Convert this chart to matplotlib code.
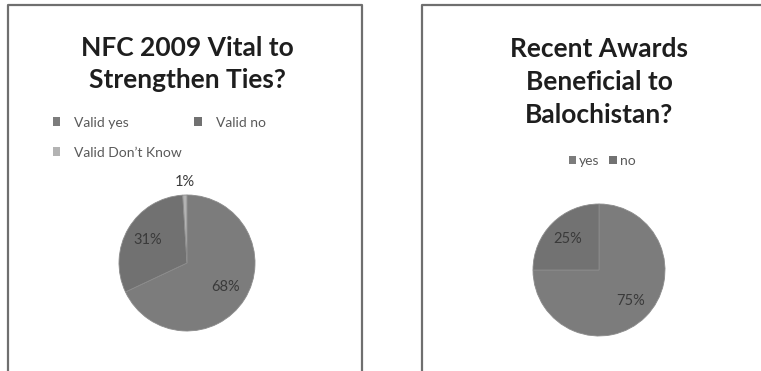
import numpy as np
import matplotlib
matplotlib.use("Agg")
import matplotlib.pyplot as plt
from matplotlib.lines import Line2D

plt.rcParams['font.family'] = ['Lato', 'DejaVu Sans']

# survey results
nfc_labels = ['Valid yes', 'Valid no', "Valid Don\u2019t Know"]
nfc_values = [68, 31, 1]
nfc_colors = ['#7c7c7c', '#717171', '#b3b3b3']
nfc_title = 'NFC 2009 Vital to\nStrengthen Ties?'

award_labels = ['yes', 'no']
award_values = [75, 25]
award_colors = ['#7c7c7c', '#727272']
award_title = 'Recent Awards\nBeneficial to\nBalochistan?'

W, H = 761, 371
fig = plt.figure(figsize=(W / 100, H / 100), dpi=100)


def px_axes(cx, cy, r):
    # square axes centred on pixel (cx, cy) with radius r
    return fig.add_axes([(cx - r) / W, (H - cy - r) / H, 2 * r / W, 2 * r / H])


def frame(points):
    xs = [p[0] / W for p in points]
    ys = [1 - p[1] / H for p in points]
    fig.add_artist(Line2D(xs, ys, color='#6f6f6f', lw=1.6))


def draw_pie(ax, values, colors):
    wedges, texts, pcts = ax.pie(values, colors=colors, startangle=90,
                                 counterclock=False, autopct='%.0f%%',
                                 pctdistance=0.67,
                                 wedgeprops=dict(edgecolor='#8c8c8c', lw=0.6),
                                 textprops=dict(color='#3a3a3a', fontsize=10.5))
    ax.set_xlim(-1, 1)
    ax.set_ylim(-1, 1)
    ax.set_aspect('equal')
    ax.axis('off')
    # tiny slices get their label outside the pie
    for w, v, t in zip(wedges, values, pcts):
        if v < 5:
            a = np.deg2rad((w.theta1 + w.theta2) / 2)
            t.set_position((1.19 * np.cos(a), 1.19 * np.sin(a)))
            t.set_clip_on(False)
    return wedges


# left chart
frame([(8, H + 2), (8, 5), (362, 5), (362, H + 2)])
fig.text(187 / W, 1 - 64 / H, nfc_title, ha='center', va='center',
         fontsize=19, fontweight='bold', color='#1e1e1e', linespacing=1.38)
ax1 = px_axes(187, 263, 68)
w1 = draw_pie(ax1, nfc_values, nfc_colors)
# legend fills column by column, so reorder to read across rows
order = [0, 2, 1]
leg1 = fig.legend([w1[i] for i in order], [nfc_labels[i] for i in order],
                  ncol=2, loc='upper left',
                  bbox_to_anchor=(40 / W, 1 - 104 / H), frameon=False,
                  fontsize=10, handlelength=0.55, handleheight=0.55,
                  handletextpad=1.0, columnspacing=0.9, labelspacing=1.3,
                  labelcolor='#595959')
for h in leg1.legend_handles:
    h.set_edgecolor('none')

# right chart
frame([(422, H + 2), (422, 5), (W + 2, 5)])
fig.text(599 / W, 1 - 82 / H, award_title, ha='center', va='center',
         fontsize=19, fontweight='bold', color='#1e1e1e', linespacing=1.45)
ax2 = px_axes(599, 270, 66)
w2 = draw_pie(ax2, award_values, award_colors)
leg2 = fig.legend(w2, award_labels, ncol=2, loc='center',
                  bbox_to_anchor=(602 / W, 1 - 161 / H), frameon=False,
                  fontsize=10, handlelength=0.55, handleheight=0.55,
                  handletextpad=0.2, columnspacing=0.7, labelcolor='#595959')
for h in leg2.legend_handles:
    h.set_edgecolor('none')

fig.savefig('out.png', dpi=100, facecolor='white')
